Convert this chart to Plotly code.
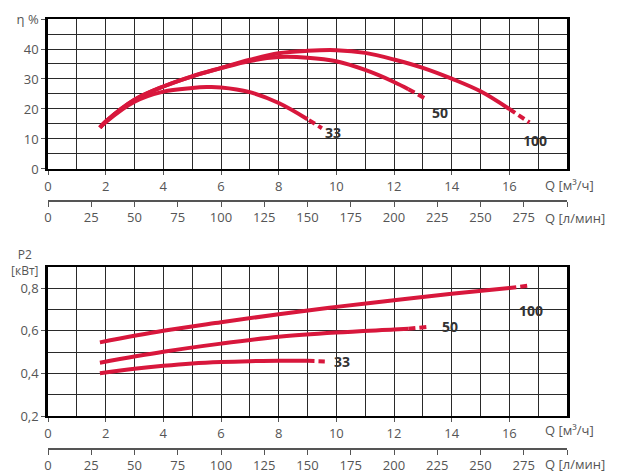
import plotly.graph_objects as go

# ---- data: efficiency (top chart) ----
q100_eta = [1.8, 2, 3, 4, 5, 6, 7, 8, 9, 10, 11, 12, 13, 14, 15, 16]
eta100 = [13.8, 15.8, 23.1, 27.5, 30.9, 33.7, 36.4, 38.6, 39.4, 39.6, 38.7, 36.5, 33.7, 30.1, 25.9, 20.0]
q100_eta_d = [16, 16.7]
eta100_d = [20.0, 15.5]

q50_eta = [1.8, 2, 3, 4, 5, 6, 7, 8, 9, 10, 11, 12, 12.5]
eta50 = [13.8, 15.8, 23.1, 27.5, 30.9, 33.6, 36.0, 37.3, 37.1, 35.9, 33.0, 29.0, 26.6]
q50_eta_d = [12.5, 13.1]
eta50_d = [26.6, 23.4]

q33_eta = [1.8, 2, 3, 4, 5, 5.5, 6, 7, 8, 9]
eta33 = [13.8, 15.6, 22.4, 25.8, 27.0, 27.3, 27.2, 25.6, 22.0, 16.6]
q33_eta_d = [9.05, 9.5]
eta33_d = [16.3, 13.6]

# ---- data: power P2 (bottom chart) ----
q100_p = [1.8, 4, 6, 8, 10, 12, 14, 16]
p100 = [0.546, 0.600, 0.640, 0.678, 0.712, 0.743, 0.773, 0.800]
q100_p_d = [16, 16.7]
p100_d = [0.800, 0.812]

q50_p = [1.8, 4, 6, 8, 10, 12, 12.5]
p50 = [0.451, 0.502, 0.540, 0.572, 0.592, 0.606, 0.610]
q50_p_d = [12.5, 13.2]
p50_d = [0.610, 0.619]

q33_p = [1.8, 3, 4, 5, 6, 7, 8, 9]
p33 = [0.401, 0.422, 0.436, 0.447, 0.454, 0.458, 0.460, 0.460]
q33_p_d = [9.0, 9.6]
p33_d = [0.460, 0.457]

curve_names = ["33", "50", "100"]
lbl_top = {"33": (9.9, 12.1), "50": (13.6, 18.8), "100": (16.9, 9.5)}
lbl_bot = {"33": (10.2, 0.456), "50": (13.95, 0.622), "100": (16.75, 0.693)}

q_ticks = list(range(0, 17, 2))
lmin_ticks = list(range(0, 301, 25))

RED = "#d8173c"
GRID = "#2a2a2a"
TICKC = "#555555"
FONT = "Open Sans"

fig = go.Figure()

def add(x, y, xa, ya, dash=None):
    fig.add_trace(go.Scatter(x=x, y=y, mode="lines", xaxis=xa, yaxis=ya,
                             line=dict(color=RED, width=4, shape="spline",
                                       dash=dash if dash else "solid"),
                             showlegend=False, hoverinfo="skip"))

for x, y in [(q100_eta, eta100), (q50_eta, eta50), (q33_eta, eta33)]:
    add(x, y, "x", "y")
for x, y in [(q100_eta_d, eta100_d), (q50_eta_d, eta50_d), (q33_eta_d, eta33_d)]:
    add(x, y, "x", "y", "7px,4px")
for x, y in [(q100_p, p100), (q50_p, p50), (q33_p, p33)]:
    add(x, y, "x2", "y2")
for x, y in [(q100_p_d, p100_d), (q50_p_d, p50_d), (q33_p_d, p33_d)]:
    add(x, y, "x2", "y2", "7px,4px")

# invisible carriers so the l/min axes are drawn
fig.add_trace(go.Scatter(x=[0, 300], y=[None, None], xaxis="x3", yaxis="y",
                         mode="markers", marker=dict(opacity=0),
                         showlegend=False, hoverinfo="skip"))
fig.add_trace(go.Scatter(x=[0, 300], y=[None, None], xaxis="x4", yaxis="y2",
                         mode="markers", marker=dict(opacity=0),
                         showlegend=False, hoverinfo="skip"))

tickfont = dict(family=FONT, size=13, color=TICKC)

main_x = dict(range=[0, 18], tickmode="array", tickvals=q_ticks,
              ticktext=[str(v) for v in q_ticks], automargin=False,
              showline=True, linecolor="black", linewidth=2, mirror=True,
              ticks="outside", ticklen=4, tickcolor=TICKC, tickfont=tickfont,
              showgrid=True, gridcolor=GRID, gridwidth=1, zeroline=False,
              minor=dict(tickvals=list(range(0, 19)), showgrid=True,
                         gridcolor=GRID, gridwidth=1, ticks=""))

sec_x = dict(range=[0, 300], tickmode="array", tickvals=lmin_ticks,
             ticktext=[str(v) if v < 300 else "" for v in lmin_ticks],
             showline=True, linecolor=TICKC, linewidth=1.5, automargin=False,
             ticks="outside", ticklen=5, tickcolor=TICKC, tickfont=tickfont,
             showgrid=False, zeroline=False, anchor="free", side="bottom")

fig.update_layout(
    width=621, height=473,
    margin=dict(l=48, r=54, t=19, b=10),
    paper_bgcolor="white", plot_bgcolor="white",
    font=dict(family=FONT),
    xaxis=dict(main_x, anchor="y", domain=[0, 1]),
    xaxis2=dict(main_x, anchor="y2", domain=[0, 1]),
    xaxis3=dict(sec_x, overlaying="x", position=0.590),
    xaxis4=dict(sec_x, overlaying="x2", position=0.0315),
    yaxis=dict(domain=[0.6622, 1.0], range=[0, 50], anchor="x", automargin=False,
               tickmode="array", tickvals=[0, 10, 20, 30, 40, 50],
               ticktext=["0", "10", "20", "30", "40", "η %"],
               showline=True, linecolor="black", linewidth=2.5, mirror=True,
               ticks="outside", ticklen=4, tickcolor=TICKC, tickfont=tickfont,
               showgrid=True, gridcolor=GRID, zeroline=False,
               minor=dict(tickvals=list(range(0, 51, 5)), showgrid=True,
                          gridcolor=GRID, ticks="")),
    yaxis2=dict(domain=[0.1052, 0.4421], range=[0.2, 0.9], anchor="x2", automargin=False,
                tickmode="array", tickvals=[0.2, 0.4, 0.6, 0.8],
                ticktext=["0,2", "0,4", "0,6", "0,8"],
                showline=True, linecolor="black", linewidth=2.5, mirror=True,
                ticks="outside", ticklen=4, tickcolor=TICKC, tickfont=tickfont,
                showgrid=True, gridcolor=GRID, zeroline=False,
                minor=dict(tickvals=[0.2, 0.3, 0.4, 0.5, 0.6, 0.7, 0.8, 0.9],
                           showgrid=True, gridcolor=GRID, ticks="")),
)

lblfont = dict(family=FONT, size=14, color="#333333")
for n in curve_names:
    x, y = lbl_top[n]
    fig.add_annotation(x=x, y=y, xref="x", yref="y", text="<b>%s</b>" % n,
                       showarrow=False, font=lblfont)
    x, y = lbl_bot[n]
    fig.add_annotation(x=x, y=y, xref="x2", yref="y2", text="<b>%s</b>" % n,
                       showarrow=False, font=lblfont)

axlbl = dict(family=FONT, size=13, color=TICKC)
for txt, yy in [("Q [м³/ч]", 0.626), ("Q [л/мин]", 0.552),
                ("Q [м³/ч]", 0.0743), ("Q [л/мин]", -0.002)]:
    fig.add_annotation(x=0.955, y=yy, xref="paper", yref="paper", text=txt,
                       xanchor="left", yanchor="middle", showarrow=False,
                       font=axlbl, borderpad=0)

fig.add_annotation(x=-0.046, y=0.452, xref="paper", yref="paper",
                   text="P2<br>[кВт]", showarrow=False, xanchor="center",
                   yanchor="middle", align="center",
                   font=dict(family=FONT, size=12, color=TICKC))

fig.write_html("out.html", config={"displayModeBar": False},
               post_script="document.body.style.margin='0';document.body.style.overflow='hidden';")
